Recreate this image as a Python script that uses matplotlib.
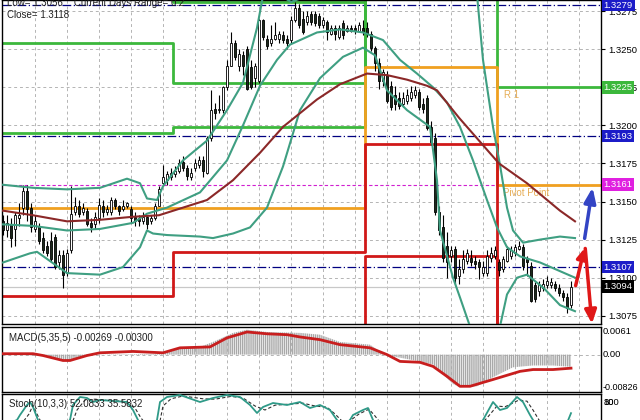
import numpy as np
import matplotlib.pyplot as plt

plt.rcParams['font.family'] = ['Liberation Sans', 'DejaVu Sans']

# 30 min EURUSD-style candles (price)
opens = [1.3137, 1.3131, 1.3135, 1.3132, 1.3139, 1.3146, 1.3157, 1.3146, 1.3132, 1.3134,
         1.3126, 1.3121, 1.3124, 1.3127, 1.3110, 1.3115, 1.3103, 1.3118, 1.3143, 1.3147,
         1.3143, 1.3144, 1.3136, 1.3135, 1.3139, 1.3147, 1.3143, 1.3143, 1.3151, 1.3147,
         1.3145, 1.3147, 1.3145, 1.3140, 1.3139, 1.3137, 1.3140, 1.3137, 1.3139, 1.3147,
         1.3162, 1.3164, 1.3166, 1.3168, 1.3170, 1.3176, 1.3172, 1.3166, 1.3172, 1.3174,
         1.3177, 1.3169, 1.3192, 1.3211, 1.3210, 1.3210, 1.3225, 1.3239, 1.3254, 1.3239,
         1.3246, 1.3250, 1.3238, 1.3231, 1.3229, 1.3269, 1.3257, 1.3254, 1.3257, 1.3257,
         1.3259, 1.3257, 1.3256, 1.3269, 1.3277, 1.3270, 1.3268, 1.3273, 1.3273, 1.3272,
         1.3266, 1.3268, 1.3260, 1.3264, 1.3258, 1.3267, 1.3262, 1.3264, 1.3264, 1.3262,
         1.3264, 1.3264, 1.3260, 1.3251, 1.3241, 1.3229, 1.3233, 1.3226, 1.3220, 1.3218,
         1.3214, 1.3216, 1.3218, 1.3220, 1.3222, 1.3214, 1.3218, 1.3199, 1.3192, 1.3143,
         1.3133, 1.3121, 1.3114, 1.3119, 1.3101, 1.3106, 1.3111, 1.3113, 1.3111, 1.3110,
         1.3103, 1.3103, 1.3113, 1.3114, 1.3110, 1.3106, 1.3111, 1.3114, 1.3116, 1.3119,
         1.3120, 1.3112, 1.3108, 1.3095, 1.3091, 1.3093, 1.3095, 1.3095, 1.3096, 1.3093,
         1.3090, 1.3087, 1.3082]
highs = [1.3141, 1.3141, 1.3139, 1.3143, 1.3149, 1.3161, 1.3161, 1.3149, 1.3141, 1.3136,
         1.3130, 1.3124, 1.3130, 1.3129, 1.3118, 1.3118, 1.3119, 1.3160, 1.3153, 1.3151,
         1.3149, 1.3146, 1.3139, 1.3143, 1.3152, 1.3151, 1.3148, 1.3153, 1.3152, 1.3148,
         1.3151, 1.3150, 1.3147, 1.3143, 1.3141, 1.3143, 1.3141, 1.3141, 1.3149, 1.3160,
         1.3174, 1.3170, 1.3172, 1.3173, 1.3178, 1.3180, 1.3174, 1.3172, 1.3178, 1.3180,
         1.3180, 1.3193, 1.3223, 1.3215, 1.3220, 1.3226, 1.3243, 1.3261, 1.3256, 1.3250,
         1.3249, 1.3252, 1.3243, 1.3241, 1.3270, 1.3270, 1.3259, 1.3266, 1.3268, 1.3262,
         1.3262, 1.3259, 1.3272, 1.3281, 1.3280, 1.3275, 1.3275, 1.3275, 1.3275, 1.3274,
         1.3271, 1.3269, 1.3266, 1.3266, 1.3266, 1.3269, 1.3266, 1.3266, 1.3266, 1.3268,
         1.3269, 1.3268, 1.3262, 1.3252, 1.3244, 1.3237, 1.3236, 1.3229, 1.3226, 1.3222,
         1.3222, 1.3224, 1.3226, 1.3226, 1.3224, 1.3218, 1.3220, 1.3203, 1.3195, 1.3147,
         1.3141, 1.3130, 1.3121, 1.3121, 1.3112, 1.3118, 1.3119, 1.3118, 1.3114, 1.3112,
         1.3111, 1.3118, 1.3120, 1.3121, 1.3112, 1.3114, 1.3121, 1.3121, 1.3122, 1.3124,
         1.3122, 1.3114, 1.3110, 1.3097, 1.3098, 1.3099, 1.3101, 1.3100, 1.3098, 1.3096,
         1.3092, 1.3090, 1.3098]
lows = [1.3128, 1.3127, 1.3120, 1.3121, 1.3134, 1.3141, 1.3137, 1.3130, 1.3130, 1.3122,
        1.3116, 1.3114, 1.3110, 1.3106, 1.3106, 1.3093, 1.3101, 1.3116, 1.3141, 1.3140,
        1.3141, 1.3134, 1.3130, 1.3132, 1.3136, 1.3140, 1.3141, 1.3141, 1.3145, 1.3141,
        1.3144, 1.3146, 1.3136, 1.3134, 1.3134, 1.3135, 1.3132, 1.3135, 1.3138, 1.3147,
        1.3160, 1.3161, 1.3164, 1.3166, 1.3169, 1.3170, 1.3164, 1.3164, 1.3170, 1.3172,
        1.3166, 1.3168, 1.3190, 1.3204, 1.3208, 1.3208, 1.3223, 1.3239, 1.3243, 1.3236,
        1.3233, 1.3223, 1.3224, 1.3225, 1.3228, 1.3256, 1.3250, 1.3252, 1.3256, 1.3254,
        1.3254, 1.3250, 1.3254, 1.3268, 1.3264, 1.3260, 1.3266, 1.3266, 1.3265, 1.3264,
        1.3264, 1.3256, 1.3259, 1.3256, 1.3257, 1.3257, 1.3261, 1.3261, 1.3260, 1.3261,
        1.3259, 1.3258, 1.3249, 1.3236, 1.3224, 1.3226, 1.3215, 1.3210, 1.3210, 1.3211,
        1.3212, 1.3214, 1.3216, 1.3218, 1.3210, 1.3208, 1.3197, 1.3187, 1.3141, 1.3128,
        1.3110, 1.3100, 1.3110, 1.3096, 1.3096, 1.3103, 1.3109, 1.3108, 1.3106, 1.3099,
        1.3101, 1.3101, 1.3110, 1.3112, 1.3101, 1.3104, 1.3110, 1.3112, 1.3114, 1.3118,
        1.3105, 1.3101, 1.3084, 1.3084, 1.3088, 1.3091, 1.3093, 1.3093, 1.3091, 1.3088,
        1.3085, 1.3077, 1.3080]
closes = [1.3131, 1.3136, 1.3126, 1.3141, 1.3141, 1.3157, 1.3145, 1.3133, 1.3137, 1.3124,
          1.3118, 1.3116, 1.3112, 1.3107, 1.3115, 1.3102, 1.3116, 1.3142, 1.3147, 1.3142,
          1.3146, 1.3135, 1.3133, 1.3140, 1.3148, 1.3143, 1.3145, 1.3151, 1.3147, 1.3144,
          1.3147, 1.3149, 1.3139, 1.3137, 1.3137, 1.3140, 1.3135, 1.3139, 1.3147, 1.3158,
          1.3166, 1.3168, 1.3169, 1.3170, 1.3175, 1.3172, 1.3167, 1.3169, 1.3175, 1.3177,
          1.3170, 1.3192, 1.3210, 1.3208, 1.3211, 1.3225, 1.3239, 1.3254, 1.3245, 1.3247,
          1.3239, 1.3224, 1.3225, 1.3239, 1.3269, 1.3258, 1.3252, 1.3257, 1.3259, 1.3260,
          1.3256, 1.3254, 1.3269, 1.3277, 1.3266, 1.3261, 1.3272, 1.3268, 1.3267, 1.3266,
          1.3269, 1.3261, 1.3264, 1.3260, 1.3264, 1.3259, 1.3264, 1.3262, 1.3262, 1.3266,
          1.3261, 1.3260, 1.3251, 1.3241, 1.3229, 1.3235, 1.3216, 1.3212, 1.3214, 1.3213,
          1.3218, 1.3220, 1.3222, 1.3223, 1.3212, 1.3211, 1.3198, 1.3189, 1.3143, 1.3131,
          1.3113, 1.3110, 1.3118, 1.3100, 1.3106, 1.3112, 1.3116, 1.3110, 1.3109, 1.3107,
          1.3107, 1.3114, 1.3116, 1.3118, 1.3105, 1.3112, 1.3119, 1.3118, 1.3120, 1.3121,
          1.3108, 1.3110, 1.3085, 1.3086, 1.3095, 1.3096, 1.3098, 1.3097, 1.3093, 1.3090,
          1.3087, 1.3080, 1.3094]

# moving average (bar index, price)
ma_x = [0, 7.5, 16, 24.25, 32.5, 39, 45, 51, 57.5, 64.25, 70, 78.5, 84.25, 91, 96, 101,
        106, 108.5, 114, 119, 124, 131, 139.25, 143]
ma_y = [1.3144, 1.3141, 1.3137, 1.3138, 1.3140, 1.3141, 1.3146, 1.3151, 1.3164, 1.3182,
        1.3199, 1.3217, 1.3227, 1.3234, 1.3233, 1.3230, 1.3226, 1.3223, 1.3205, 1.3190,
        1.3175, 1.3162, 1.3144, 1.3137]

# bollinger bands
bb_up_x = [0, 7.5, 16, 24.25, 31, 34.25, 36, 38.5, 40, 45, 51, 56, 60, 63.5, 65.5, 72,
           76, 82, 118, 120, 122.5, 124.25, 126, 127.5, 130, 134.25, 139.25, 143]
bb_up_y = [1.3161, 1.3159, 1.3158, 1.3159, 1.3165, 1.3162, 1.3152, 1.3151, 1.3160, 1.3177,
           1.3190, 1.3210, 1.3228, 1.3264, 1.3292, 1.3281, 1.3285, 1.3300, 1.3300, 1.3243,
           1.3199, 1.3174, 1.3146, 1.3131, 1.3123, 1.3125, 1.3127, 1.3126]
bb_mid_x = [0, 7.5, 16, 24.25, 32.5, 36, 41, 49.25, 56, 60, 64.25, 68.5, 71.75, 78.5,
            84.25, 90, 95, 99.25, 103.5, 107.5, 111, 114.25, 117.5, 121, 123.5, 126,
            129.25, 134.25, 143]
bb_mid_y = [1.3135, 1.3134, 1.3131, 1.3132, 1.3136, 1.3142, 1.3146, 1.3156, 1.3177, 1.3200,
            1.3226, 1.3243, 1.3253, 1.3261, 1.3263, 1.3261, 1.3256, 1.3243, 1.3234, 1.3225,
            1.3215, 1.3199, 1.3177, 1.3151, 1.3133, 1.3120, 1.3114, 1.3110, 1.3100]
bb_low_x = [0, 6.75, 8.5, 16, 24.25, 30, 34.25, 36, 37.5, 41, 49.25, 52.5, 57.5, 61.75,
            66, 70, 74.25, 79.25, 85, 90, 93, 96, 101, 106.75, 108.5, 109.25, 112.5,
            114.25, 116.75, 119.25, 123, 124.25, 126, 128.5, 131, 135.25, 139.25, 143]
bb_low_y = [1.3110, 1.3116, 1.3117, 1.3103, 1.3102, 1.3107, 1.3120, 1.3131, 1.3129, 1.3128,
            1.3127, 1.3126, 1.3129, 1.3133, 1.3146, 1.3173, 1.3210, 1.3231, 1.3245, 1.3251,
            1.3246, 1.3223, 1.3210, 1.3199, 1.3164, 1.3131, 1.3100, 1.3087, 1.3068, 1.3046,
            1.3052, 1.3068, 1.3089, 1.3100, 1.3102, 1.3093, 1.3082, 1.3078]

# daily pivot levels, one value per day
day_edges = [-0.25, 42.5, 90.5, 123.5, 149.5]
r3 = [1.3310, 1.3281, 1.3310, 1.3310]
r2 = [1.3254, 1.3228, 1.3310, 1.3310]
r1 = [1.3195, 1.3199, 1.3310, 1.3225]
pivot = [1.3146, 1.3146, 1.3238, 1.3161]
s1 = [1.3088, 1.3117, 1.3188, 1.3040]
s2 = [1.3040, 1.3040, 1.3114, 1.3030]

navy_levels = [1.3279, 1.3193, 1.3107]
magenta_level = 1.3161
bid = 1.3094

# MACD(5,35,5)
macd_x = [0, 9.25, 13.5, 16, 18.5, 21.75, 40, 42.5, 49.25, 52.5, 57.5, 61, 66, 74.25,
          79.25, 84.25, 91.75, 94.25, 96, 97.5, 104.25, 107.5, 110, 112.5, 114.25, 118.5,
          122.5, 127.5, 132.5, 137.5, 142]
macd_main = [0, -0.0002, -0.0007, -0.0013, -0.0009, 0, 0.0002, 0.0011, 0.0017, 0.0028,
             0.0048, 0.0055, 0.0050, 0.0048, 0.0044, 0.0028, 0.0022, 0.0007, 0, -0.0004,
             -0.0015, -0.0022, -0.0044, -0.0065, -0.0072, -0.0070, -0.0050, -0.0028,
             -0.0024, -0.0024, -0.0027]
sig_x = [0, 7.5, 10, 15, 16.75, 21, 24.25, 32.5, 40, 44.25, 51.75, 56, 61, 66, 71, 74.25,
         79.25, 84.25, 91.75, 96, 99.25, 104.25, 107.5, 111, 114.25, 116.75, 122.5, 129.25,
         132.5, 137.5, 142]
sig_y = [0.0002, 0.0002, -0.0002, -0.0013, -0.0013, -0.0002, 0.0004, 0.0007, 0.0004,
         0.0015, 0.0017, 0.0037, 0.0050, 0.0046, 0.0044, 0.0039, 0.0033, 0.0022, 0.0015,
         0.0, -0.0015, -0.0017, -0.0026, -0.0048, -0.0070, -0.0070, -0.0055, -0.0037,
         -0.0033, -0.0033, -0.0030]

# Stochastic(10,3,3)
st_x = [0, 3.5, 4.25, 6, 6.75, 7.5, 8.75, 10.5, 14.25, 16.75, 17.5, 19.25, 21, 22.5, 24.25,
        27.5, 31, 32.5, 33.75, 35.5, 37.25, 38.5, 39.25, 41, 44.25, 49.25, 52.5, 56, 59.25,
        61.75, 63.5, 65, 67.5, 71, 74.25, 76.75, 79.25, 81.75, 83.5, 85, 86.75, 87.5, 90,
        91.25, 92.5, 94.25, 117.75, 120, 122.5, 124.25, 126, 128.5, 130, 131.75, 132.5,
        134.25, 140.5, 142]
st_main = [20, 35, 47.5, 72.5, 80, 67.5, 35, 15, 15, 35, 72.5, 92.5, 90, 80, 85, 82.5, 80,
           60, 35, 10, 10, 35, 80, 92.5, 97.5, 80, 90, 97.5, 92.5, 72.5, 52.5, 67.5, 77.5,
           72.5, 80, 65, 72.5, 60, 35, 20, 35, 47.5, 60, 65, 35, 10, 10, 35, 80, 60, 65,
           92.5, 80, 47.5, 35, 15, 15, 52.1]
st_sig_x = [0, 5, 6.5, 7.5, 8.5, 9.5, 12, 17, 18.5, 20.5, 23, 26, 30, 33, 34.5, 36.5, 39,
            40, 42, 45, 50, 53, 57, 60, 63, 65.5, 68, 72, 75, 78, 81, 83, 85, 87, 89, 91.5,
            93, 95, 118, 121, 123.5, 125.5, 129, 131, 132.5, 134, 136, 141, 142]
st_sig = [15, 30, 50, 72, 50, 30, 15, 20, 60, 85, 87, 84, 82, 65, 40, 15, 20, 70, 88, 95,
          88, 87, 94, 90, 70, 60, 72, 75, 77, 70, 67, 50, 30, 35, 50, 62, 45, 20, 10, 40,
          70, 68, 85, 82, 60, 35, 15, 20, 35.6]

# signal arrows at the right edge
red_arrow_x = [143, 145.5, 147.3]
red_arrow_y = [1.3093, 1.3121, 1.3068]
blue_arrow_x = [145.3, 147.5]
blue_arrow_y = [1.3124, 1.3161]

W, H = 640, 420


def px_box(x0, y0, x1, y1):
    return [x0 / W, 1 - y1 / H, (x1 - x0) / W, (y1 - y0) / H]


fig = plt.figure(figsize=(6.4, 4.2), dpi=100)
fig.patch.set_facecolor('white')
ax = fig.add_axes(px_box(2, 0, 601, 324))
ax_m = fig.add_axes(px_box(2, 327, 601, 392))
ax_s = fig.add_axes(px_box(2, 394, 601, 434))

LBL = 6.8
grid_kw = dict(color='#b4b4b4', linestyle=(0, (3, 3)), linewidth=0.7)
xgrid = np.arange(8, 149, 8)
for a in (ax, ax_m, ax_s):
    a.set_xlim(-0.25, 149.5)
    a.set_xticks(xgrid)
    a.tick_params(axis='x', length=0, labelbottom=False)
    a.grid(axis='x', **grid_kw)
    a.set_axisbelow(True)
    for sp in a.spines.values():
        sp.set_color('black')
        sp.set_linewidth(1.0)

# ---- main price panel
ax.set_ylim(1.30696, 1.32823)
yt = [1.3075, 1.3100, 1.3125, 1.3150, 1.3175, 1.3200, 1.3225, 1.3250, 1.3275]
ax.set_yticks(yt)
ax.set_yticklabels(['%.4f' % v for v in yt])
ax.yaxis.tick_right()
ax.tick_params(axis='y', length=3, width=0.8, pad=2, labelsize=LBL)
ax.grid(axis='y', **grid_kw)

for lv in navy_levels:
    ax.axhline(lv, color='#000080', lw=0.9, ls=(0, (7, 2, 1, 2)), zorder=1)
ax.axhline(magenta_level, color='#d020d0', lw=0.8, ls=(0, (3, 2)), zorder=1)
ax.axhline(bid, color='#c8c8c8', lw=0.9, zorder=1)

for lv, col in [(r3, '#3cb83c'), (r2, '#3cb83c'), (r1, '#3cb83c'),
                (pivot, '#f0a020'), (s1, '#d01818'), (s2, '#d01818')]:
    ax.plot(day_edges, lv + [lv[-1]], drawstyle='steps-post', color=col,
            lw=2.0, zorder=2)

ax.text(125.3, 1.3223, 'R 1', color='#e6ad55', fontsize=7, va='top', ha='left')
ax.text(125.0, 1.3159, 'Pivot Point', color='#e6ad55', fontsize=7, va='top', ha='left')

# candles
n = len(closes)
xs = np.arange(n)
o = np.array(opens)
c = np.array(closes)
bull = c >= o
ax.vlines(xs, lows, highs, color='black', lw=0.8, zorder=3)
body_lo = np.minimum(o, c)
body_h = np.maximum(np.abs(c - o), 0.00003)
ax.bar(xs, body_h, bottom=body_lo, width=0.62,
       color=np.where(bull, 'white', '#1c2a1c'), edgecolor='black',
       linewidth=0.6, zorder=4)

ax.plot(bb_up_x, bb_up_y, color='#3f9f82', lw=1.5, zorder=5)
ax.plot(bb_mid_x, bb_mid_y, color='#3f9f82', lw=1.5, zorder=5)
ax.plot(bb_low_x, bb_low_y, color='#3f9f82', lw=1.5, zorder=5)
ax.plot(ma_x, ma_y, color='#8b2828', lw=1.5, zorder=5)

# arrows
ax.annotate('', xy=(red_arrow_x[1], red_arrow_y[1]), xytext=(red_arrow_x[0], red_arrow_y[0]),
            arrowprops=dict(arrowstyle='-|>,head_length=0.6,head_width=0.3',
                            color='#e01818', lw=2.5), zorder=6)
ax.annotate('', xy=(red_arrow_x[2], red_arrow_y[2]), xytext=(red_arrow_x[1], red_arrow_y[1]),
            arrowprops=dict(arrowstyle='-|>,head_length=0.8,head_width=0.35',
                            color='#e01818', lw=2.5), zorder=6, annotation_clip=False)
ax.annotate('', xy=(blue_arrow_x[1], blue_arrow_y[1]), xytext=(blue_arrow_x[0], blue_arrow_y[0]),
            arrowprops=dict(arrowstyle='-|>,head_length=0.9,head_width=0.35',
                            color='#3344c4', lw=2.5), zorder=6)

# price boxes on the right scale
boxes = [(1.3279, '#1c1cc8'), (1.3225, '#3cb83c'), (1.3193, '#1c1cc8'),
         (1.3161, '#e020e0'), (1.3107, '#1c1cc8'), (1.3094, '#000000')]
ytr = ax.get_yaxis_transform()
for lv, col in boxes:
    ax.text(1.004, lv, '%.4f' % lv, transform=ytr, ha='left', va='center',
            fontsize=LBL, color='white', zorder=10,
            bbox=dict(boxstyle='square,pad=0.2', fc=col, ec='none'))

fig.text(7 / W, 1 - 3 / H, 'Low= 1.3056    Current Days Range= 0.2',
         fontsize=7, color='#202020', va='center', ha='left')
fig.text(7 / W, 1 - 15 / H, 'Close= 1.3118', fontsize=7, color='#202020',
         va='center', ha='left')

# ---- MACD panel
ax_m.set_ylim(-0.00826, 0.0061)
ax_m.set_yticks([])
ax_m.axhline(0, **grid_kw)
ax_m.fill_between(macd_x, 0, macd_main, facecolor='none', edgecolor='#a8a8a8',
                  hatch='||||||||', linewidth=0, zorder=2)
ax_m.plot(sig_x, sig_y, color='#c81e1e', lw=2.0, zorder=3)
ax_m.text(7 / 599, 1 - 11 / 65, 'MACD(5,35,5) -0.00269 -0.00300', transform=ax_m.transAxes,
          fontsize=7, color='#202020', va='center', ha='left')
mt = ax_m.get_yaxis_transform()
ax_m.text(1.002, 0.0061, '0.0061', transform=mt, fontsize=LBL, va='top', ha='left')
ax_m.text(1.002, 0.0, '0.00', transform=mt, fontsize=LBL, va='center', ha='left')
ax_m.text(1.002, -0.00826, '-0.00826', transform=mt, fontsize=LBL - 0.3, va='bottom', ha='left')

# ---- Stochastic panel
ax_s.set_ylim(0, 100)
ax_s.set_yticks([])
ax_s.plot(st_x, st_main, color='#2f9a88', lw=1.3, zorder=3)
ax_s.plot(st_sig_x, st_sig, color='#303030', lw=0.8, ls=(0, (3, 2)), zorder=2)
ax_s.text(7 / 599, 1 - 10 / 40, 'Stoch(10,3,3) 52.0833 35.5832', transform=ax_s.transAxes,
          fontsize=7, color='#202020', va='center', ha='left')
st_tr = ax_s.get_yaxis_transform()
ax_s.text(1.004, 80, '100', transform=st_tr, fontsize=LBL, va='center', ha='left')
ax_s.text(1.004, 80, '80', transform=st_tr, fontsize=LBL, va='center', ha='left')

fig.savefig('out.png', dpi=100, facecolor='white')
